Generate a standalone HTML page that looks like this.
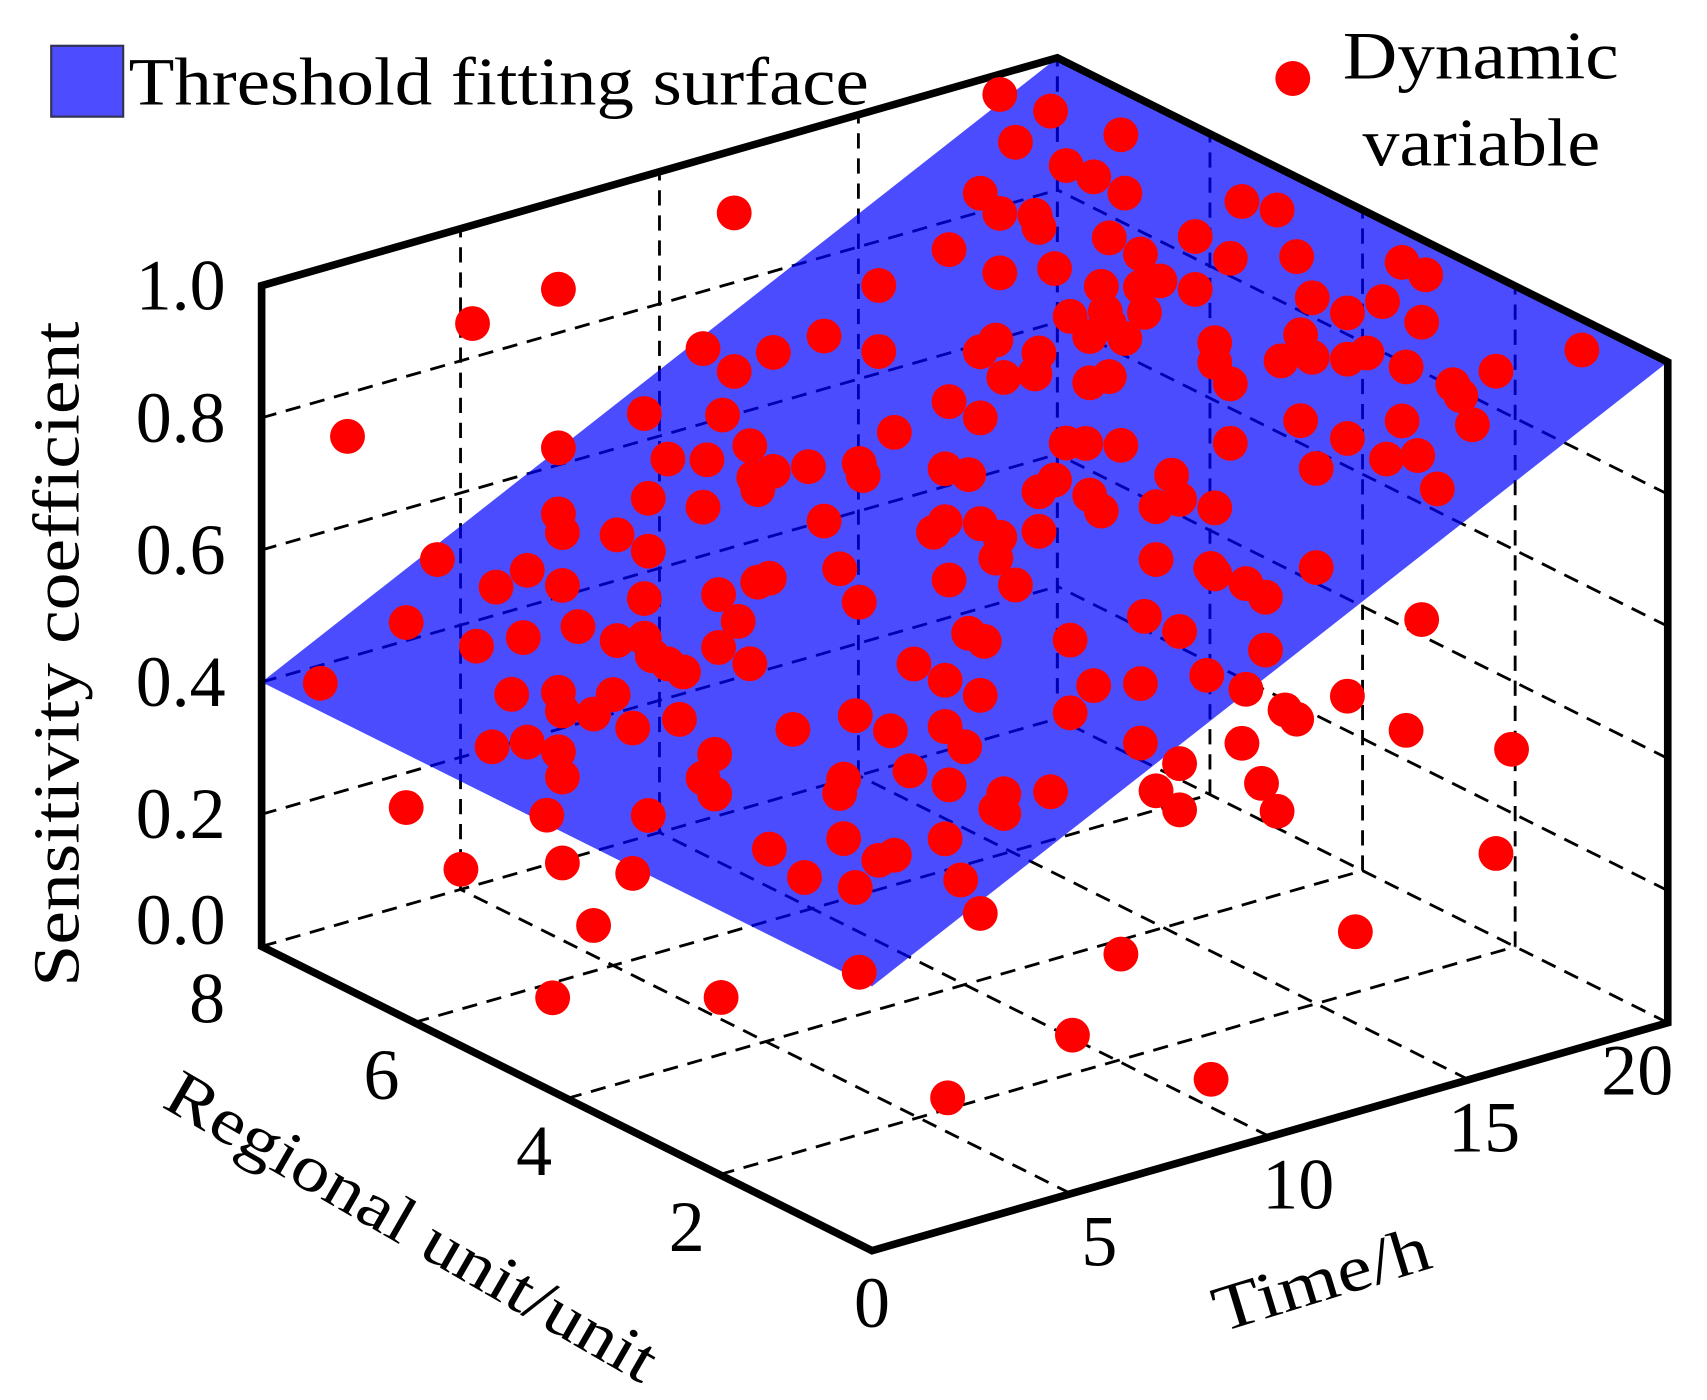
<!DOCTYPE html>
<html><head><meta charset="utf-8"><style>
html,body{margin:0;padding:0;background:#fff;}
svg{display:block;}
text{font-family:"Liberation Serif","Times New Roman",serif;fill:#000;}
</style></head><body>
<svg id="chart" width="1707" height="1400" viewBox="0 0 1566 1284" preserveAspectRatio="none" xmlns="http://www.w3.org/2000/svg">
<g id="grid"></g>
<g id="surface"></g>
<g id="box"></g>
<g id="dots"></g>
<g id="labels"></g>
<text transform="translate(72,600) rotate(-90)" text-anchor="middle" font-size="60" textLength="610" lengthAdjust="spacingAndGlyphs">Sensitivity coefficient</text>
<text transform="translate(368,1142) rotate(30)" text-anchor="middle" font-size="60" textLength="510" lengthAdjust="spacingAndGlyphs">Regional unit/unit</text>
<text transform="translate(1218,1192) rotate(-17)" text-anchor="middle" font-size="60" textLength="205" lengthAdjust="spacingAndGlyphs">Time/h</text>
<g>
<rect x="47" y="42" width="66" height="65" fill="#4d4dff" stroke="#333355" stroke-width="2"/>
<text x="118" y="96" font-size="62" textLength="679" lengthAdjust="spacingAndGlyphs">Threshold fitting surface</text>
<circle cx="1186" cy="72" r="16" fill="#ff0000"/>
<text x="1232" y="72" font-size="62" textLength="253" lengthAdjust="spacingAndGlyphs">Dynamic</text>
<text x="1250" y="152" font-size="62" textLength="218" lengthAdjust="spacingAndGlyphs">variable</text>
</g>
</svg>
<script>
const timeVals=[10.5,11.2,12.2,10.7,11.4,11.9,12.3,10.2,10.5,11.0,11.1,13.9,14.4,13.3,12.5,12.1,13.8,14.7,9.8,6.7,11.3,10.5,11.9,12.5,12.8,13.3,16.2,16.6,15.9,15.4,14.9,16.5,12.0,12.6,11.5,12.1,11.8,12.3,13.6,14.8,14.5,14.9,15.4,15.7,16.3,17.6,18.8,13.6,13.8,11.8,12.1,8.8,4.2,3.0,10.4,10.2,11.1,10.6,11.0,6.3,6.7,7.3,8.0,8.8,1.2,5.4,6.6,6.9,9.0,9.8,10.2,4.2,5.8,6.4,7.8,8.5,8.6,7.0,7.1,7.3,9.7,10.1,11.4,11.7,12.2,13.8,14.8,15.4,16.2,16.4,16.0,16.9,17.1,17.2,16.7,15.0,12.9,11.3,11.1,11.8,11.9,12.7,13.1,13.6,4.2,4.3,5.5,6.3,8.0,9.7,9.6,10.2,10.5,11.1,5.1,5.5,2.5,3.8,3.4,4.3,7.2,7.1,8.2,9.8,10.4,10.7,12.7,13.5,13.6,14.0,14.3,15.0,6.5,5.4,8.5,2.1,4.5,3.7,3.1,5.1,5.4,6.8,6.5,5.6,5.8,6.0,6.9,10.1,10.3,11.5,12.6,13.1,14.3,13.4,16.5,0.9,3.6,4.2,4.3,4.7,5.0,5.9,9.3,9.7,10.2,11.9,12.5,14.0,15.4,11.5,7.6,8.4,8.9,9.7,10.0,12.5,14.7,14.6,16.3,17.8,13.9,3.3,3.8,4.2,4.3,6.4,5.3,9.2,8.3,8.2,9.8,10.6,11.2,13.1,12.7,14.2,6.3,6.4,4.1,5.5,2.1,10.4,10.6,13.1,14.4,7.2,8.3,9.7,2.9,4.3,5.3,7.7,8.8,9.0,8.4,9.9,10.2,17.6,4.7,15.6,12.2,8.5,3.0,5.7,10.1,10.9,6.1];
const regionVals=[3.8,3.5,3.1,3.7,3.4,3.3,3.1,3.9,3.8,3.6,3.6,2.4,2.2,2.7,3.0,3.2,2.5,2.1,4.1,5.3,3.5,3.8,3.2,3.0,2.9,2.7,1.5,1.4,1.6,1.8,2.0,1.4,3.2,3.0,3.4,3.2,3.3,3.1,2.6,2.1,2.2,2.0,1.8,1.7,1.5,1.0,0.5,2.6,2.5,3.3,3.2,4.5,6.3,6.8,3.8,3.9,3.6,3.8,3.6,5.5,5.3,5.1,4.8,4.5,7.5,5.8,5.4,5.2,4.4,4.1,3.9,6.3,5.7,5.5,4.9,4.6,4.6,5.2,5.2,5.1,4.1,4.0,3.4,3.3,3.1,2.5,2.1,1.8,1.5,1.4,1.6,1.2,1.2,1.1,1.3,2.0,2.8,3.5,3.6,3.3,3.2,2.9,2.8,2.6,6.3,6.3,5.8,5.5,4.8,4.1,4.2,3.9,3.8,3.6,6.0,5.8,7.0,6.5,6.7,6.3,5.1,5.2,4.7,4.1,3.8,3.7,2.9,2.6,2.6,2.4,2.3,2.0,5.4,5.8,4.6,7.2,6.2,6.5,6.8,6.0,5.8,5.3,5.4,5.8,5.7,5.6,5.2,4.0,3.9,3.4,3.0,2.8,2.3,2.6,1.4,7.7,6.6,6.3,6.3,6.1,6.0,5.6,4.3,4.1,3.9,3.3,3.0,2.4,1.8,3.4,5.0,4.6,4.4,4.1,4.0,3.0,2.1,2.2,1.5,0.9,2.4,6.7,6.5,6.3,6.3,5.4,5.9,4.3,4.7,4.7,4.1,3.8,3.5,2.8,2.9,2.3,5.5,5.4,6.4,5.8,7.2,3.8,3.8,2.8,2.2,5.1,4.7,4.1,6.9,6.3,5.9,4.9,4.5,4.4,4.6,4.0,3.9,1.0,6.1,1.8,3.1,4.6,5.75,4.95,2.64,1.24,2.19];
const sensVals=[1.35,1.33,1.30,1.28,1.25,1.23,1.21,1.20,1.17,1.17,1.15,1.21,1.20,1.15,1.12,1.14,1.12,1.13,1.11,1.15,1.09,1.08,1.07,1.07,1.08,1.07,1.13,1.11,1.07,1.05,1.07,1.04,1.03,1.03,1.02,1.01,0.99,0.99,0.99,1.01,0.97,0.98,0.98,0.99,0.97,0.97,1.01,0.96,0.93,0.92,0.93,1.05,1.02,0.96,0.98,0.96,0.96,0.92,0.93,0.94,0.91,0.94,0.97,0.95,0.78,0.84,0.84,0.80,0.83,0.88,0.86,0.78,0.77,0.77,0.77,0.78,0.76,0.75,0.73,0.76,0.78,0.77,0.83,0.83,0.83,0.84,0.88,0.86,0.89,0.84,0.83,0.95,0.93,0.89,0.79,0.81,0.79,0.77,0.75,0.75,0.73,0.74,0.75,0.74,0.68,0.65,0.71,0.70,0.69,0.70,0.68,0.70,0.68,0.69,0.65,0.63,0.60,0.59,0.56,0.57,0.60,0.59,0.62,0.61,0.65,0.61,0.66,0.65,0.64,0.63,0.61,0.66,0.57,0.56,0.57,0.50,0.51,0.49,0.47,0.49,0.50,0.53,0.49,0.47,0.46,0.45,0.47,0.53,0.52,0.53,0.57,0.55,0.53,0.49,0.59,0.40,0.40,0.41,0.38,0.38,0.41,0.38,0.48,0.46,0.44,0.46,0.47,0.47,0.47,0.42,0.37,0.40,0.38,0.39,0.36,0.38,0.43,0.44,0.42,0.40,0.39,0.32,0.33,0.32,0.28,0.33,0.36,0.32,0.30,0.28,0.30,0.29,0.30,0.35,0.31,0.33,0.29,0.27,0.22,0.23,0.22,0.27,0.26,0.28,0.29,0.19,0.21,0.22,0.13,0.15,0.14,0.15,0.18,0.19,0.14,0.16,0.11,0.24,0.06,0.11,0.06,0.01,0,0,0,0,0];
const zTicks=[0,0.2,0.4,0.6,0.8,1.0];
const zTickLabels=["0.0","0.2","0.4","0.6","0.8","1.0"];
const timeTicks=[0,5,10,15,20];
const regionTicks=[0,2,4,6,8];
const surfaceTimes=[0,20];
const surfaceSens=[0.4,1.0];

const T_MAX=20,R_MAX=8,Z_MAX=1;
const ORIGIN_X=800,ORIGIN_Y=1147;
function px(t,r,z){return [ORIGIN_X+(730/T_MAX)*t-(560/R_MAX)*r, ORIGIN_Y-(209/T_MAX)*t-(279/R_MAX)*r-(606/Z_MAX)*z];}
const NS="http://www.w3.org/2000/svg";
function mk(tag,attrs,parent){const e=document.createElementNS(NS,tag);for(const k in attrs)e.setAttribute(k,attrs[k]);parent.appendChild(e);return e;}
function line(a,b,parent,style){return mk('line',Object.assign({x1:a[0],y1:a[1],x2:b[0],y2:b[1]},style),parent);}
const grid=document.getElementById('grid'),surf=document.getElementById('surface'),box=document.getElementById('box'),dots=document.getElementById('dots'),labels=document.getElementById('labels');
const dash={stroke:'#000','stroke-width':2.6,'stroke-dasharray':'14 9',fill:'none'};
timeTicks.forEach(t=>{if(t>0){const l=line(px(t,R_MAX,0),px(t,R_MAX,Z_MAX),grid,dash);

}});
zTicks.forEach(z=>{if(z<Z_MAX){const l=line(px(0,R_MAX,z),px(T_MAX,R_MAX,z),grid,dash);


const l2=line(px(T_MAX,0,z),px(T_MAX,R_MAX,z),grid,dash);

}});
regionTicks.forEach(r=>{if(r>0&&r<R_MAX){const l=line(px(T_MAX,r,0),px(T_MAX,r,Z_MAX),grid,dash);


const f=line(px(0,r,0),px(T_MAX,r,0),grid,dash);

}});
timeTicks.forEach(t=>{if(t>0&&t<T_MAX){const f=line(px(t,0,0),px(t,R_MAX,0),grid,dash);

}});
{const l=line(px(T_MAX,R_MAX,0),px(T_MAX,R_MAX,Z_MAX),grid,dash);

}
const c1=px(surfaceTimes[0],0,surfaceSens[0]),c2=px(surfaceTimes[1],0,surfaceSens[1]),c3=px(surfaceTimes[1],R_MAX,surfaceSens[1]),c4=px(surfaceTimes[0],R_MAX,surfaceSens[0]);
const poly=mk('polygon',{points:[c1,c2,c3,c4].map(p=>p.join(',')).join(' '),fill:'#0000ff','fill-opacity':0.7},surf);


const se=line(c2,c3,surf,{stroke:'#00008b','stroke-width':4});


const thick={stroke:'#000','stroke-width':7,'stroke-linecap':'square',fill:'none'};
const hex=[px(0,R_MAX,0),px(0,R_MAX,Z_MAX),px(T_MAX,R_MAX,Z_MAX),px(T_MAX,0,Z_MAX),px(T_MAX,0,0),px(0,0,0)];
const hp=mk('polygon',Object.assign({points:hex.map(p=>p.join(',')).join(' '),'stroke-linejoin':'miter'},thick),box);


for(let i=0;i<timeVals.length;i++){const p=px(timeVals[i],regionVals[i],sensVals[i]);
const c=mk('circle',{cx:p[0],cy:p[1],r:16,fill:'#ff0000'},dots);

}
zTicks.forEach((z,i)=>{const p=px(0,R_MAX,z);
const t=mk('text',{x:p[0]-33,y:p[1]+(z===0?-2:22),'text-anchor':'end','font-size':66},labels);t.textContent=zTickLabels[i];

});
regionTicks.forEach(r=>{const p=px(0,r,0);
const t=mk('text',{x:p[0]-(r===8?50:r===0?0:30),y:p[1]+70,'text-anchor':'middle','font-size':66},labels);t.textContent=String(r);

});
timeTicks.forEach(tv=>{if(tv===0)return;const p=px(tv,0,0);
const t=mk('text',{x:p[0]+(tv===20?-28:tv===15?14:26),y:p[1]+66,'text-anchor':'middle','font-size':66},labels);t.textContent=String(tv);

});
</script>
</body></html>
